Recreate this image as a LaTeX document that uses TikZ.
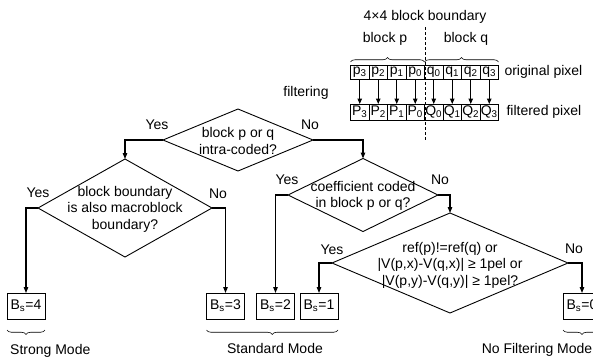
\documentclass[tikz,border=0pt]{standalone}
\usepackage{fontspec}
\setmainfont{Liberation Sans}
\usetikzlibrary{arrows.meta,shapes.geometric,decorations.pathreplacing}
\def\bsval#1{B\textsubscript{s}=#1}
\tikzset{
	decision/.style={draw, shape=diamond, inner sep=0pt, outer sep=0pt, line width=0.9pt},
	bsbox/.style={draw, line width=0.9pt, minimum width=38pt, minimum height=26pt, inner sep=0pt, outer sep=0pt},
	pixcell/.style={draw, line width=0.6pt, minimum width=18.5pt, minimum height=14pt, inner sep=0pt, outer sep=0pt},
	flow/.style={line width=1.2pt, -{Triangle[length=6pt,width=4.5pt]}},
	filt/.style={line width=1pt, -{Triangle[length=5.5pt,width=4.5pt]}},
	modebrace/.style={decorate, decoration={brace, amplitude=4.5pt}, line width=0.6pt},
}

\begin{document}
\begin{tikzpicture}[x=1pt, y=-1pt, font=\fontsize{14}{16.5}\selectfont]
		%%%%% START %%%%%
		\clip (0,0) rectangle (593,356);
		
		\node (title) at (425,17) {4×4 block boundary};
		\node (blkp) at (385,39) {block p};
		\node (blkq) at (466,39) {block q};
		\coordinate (dtop) at (425,27);
		\coordinate (dbot) at (425,140);
		\draw[line width=0.8pt, dash pattern=on 3pt off 2pt] (dtop) -- (dbot);
		
		\node[pixcell] (p3) at (359.75,72) {p\textsubscript{3}};
		\node[pixcell] (p2) at (378.25,72) {p\textsubscript{2}};
		\node[pixcell] (p1) at (396.75,72) {p\textsubscript{1}};
		\node[pixcell] (p0) at (415.25,72) {p\textsubscript{0}};
		\node[pixcell] (q0) at (433.75,72) {q\textsubscript{0}};
		\node[pixcell] (q1) at (452.25,72) {q\textsubscript{1}};
		\node[pixcell] (q2) at (470.75,72) {q\textsubscript{2}};
		\node[pixcell] (q3) at (489.25,72) {q\textsubscript{3}};
		
		\node[pixcell, minimum height=16pt] (P3) at (359.75,112) {P\textsubscript{3}};
		\node[pixcell, minimum height=16pt] (P2) at (378.25,112) {P\textsubscript{2}};
		\node[pixcell, minimum height=16pt] (P1) at (396.75,112) {P\textsubscript{1}};
		\node[pixcell, minimum height=16pt] (P0) at (415.25,112) {P\textsubscript{0}};
		\node[pixcell, minimum height=16pt] (Q0) at (433.75,112) {Q\textsubscript{0}};
		\node[pixcell, minimum height=16pt] (Q1) at (452.25,112) {Q\textsubscript{1}};
		\node[pixcell, minimum height=16pt] (Q2) at (470.75,112) {Q\textsubscript{2}};
		\node[pixcell, minimum height=16pt] (Q3) at (489.25,112) {Q\textsubscript{3}};
		
		\draw[filt] (p3) -- (P3);
		\draw[filt] (p2) -- (P2);
		\draw[filt] (p1) -- (P1);
		\draw[filt] (p0) -- (P0);
		\draw[filt] (q0) -- (Q0);
		\draw[filt] (q1) -- (Q1);
		\draw[filt] (q2) -- (Q2);
		\draw[filt] (q3) -- (Q3);
		
		\draw[modebrace] ([yshift=3pt]p3.north west) -- ([yshift=3pt]p0.north east);
		\draw[modebrace] ([yshift=3pt]q0.north west) -- ([yshift=3pt]q3.north east);
		
		\node[anchor=west] (origlbl) at (501,72) {original pixel};
		\node[anchor=west] (filtlbl) at (503,112) {filtered pixel};
		\node (filtering) at (306,93) {filtering};
		
		\node[decision, minimum width=150pt, minimum height=62pt] (intra) at (238,140) {};
		\node[align=center] (intratxt) at (238,141) {block p or q\\intra-coded?};
		\node[decision, minimum width=174pt, minimum height=98pt] (mbedge) at (125,208) {};
		\node[align=center] (mbedgetxt) at (125,209) {block boundary\\is also macroblock\\boundary?};
		\node[decision, minimum width=150pt, minimum height=73pt] (coef) at (363,195) {};
		\node[align=center] (coeftxt) at (363,196) {coefficient coded\\in block p or q?};
		\node[decision, minimum width=236pt, minimum height=100pt] (motion) at (450,263) {};
		\node[align=center] (motiontxt) at (450,265) {ref(p)!=ref(q) or\\|V(p,x)-V(q,x)| ≥ 1pel or\\|V(p,y)-V(q,y)| ≥ 1pel?};
		
		\node[bsbox] (b4) at (26,306) {\bsval{4}};
		\node[bsbox] (b3) at (225.5,306) {\bsval{3}};
		\node[bsbox] (b2) at (275.5,306) {\bsval{2}};
		\node[bsbox] (b1) at (319,306) {\bsval{1}};
		\node[bsbox] (b0) at (582,306) {\bsval{0}};
		
		\draw[flow] (intra.west) -| (mbedge.north);
		\draw[flow] (intra.east) -| (coef.north);
		\draw[flow] (mbedge.west) -| (b4.north);
		\draw[flow] (mbedge.east) -| (b3.north);
		\draw[flow] (coef.west) -| (b2.north);
		\draw[flow] (coef.east) -| (motion.north);
		\draw[flow] (motion.west) -| (b1.north);
		\draw[flow] (motion.east) -| (b0.north);
		
		\node (yes1) at (157,125) {Yes};
		\node (no1) at (310,125) {No};
		\node (yes2) at (38,193) {Yes};
		\node (no2) at (218,194) {No};
		\node (yes3) at (287,180) {Yes};
		\node (no3) at (440,180) {No};
		\node (yes4) at (332,250) {Yes};
		\node (no4) at (574,249) {No};
		
		\draw[modebrace] ([yshift=-11pt]b4.south east) -- ([yshift=-11pt]b4.south west);
		\draw[modebrace] ([yshift=-11pt]b1.south east) -- ([yshift=-11pt]b3.south west);
		\draw[modebrace] ([yshift=-11pt]b0.south east) -- ([yshift=-11pt]b0.south west);
		
		\node[anchor=base west, inner sep=0pt] (strong) at (10,354) {Strong Mode};
		\node[anchor=base, inner sep=0pt] (standard) at (275,353) {Standard Mode};
		\node[anchor=base, inner sep=0pt] (nofilt) at (537,353) {No Filtering Mode};
		%%%%% END %%%%%
\end{tikzpicture}
\end{document}
